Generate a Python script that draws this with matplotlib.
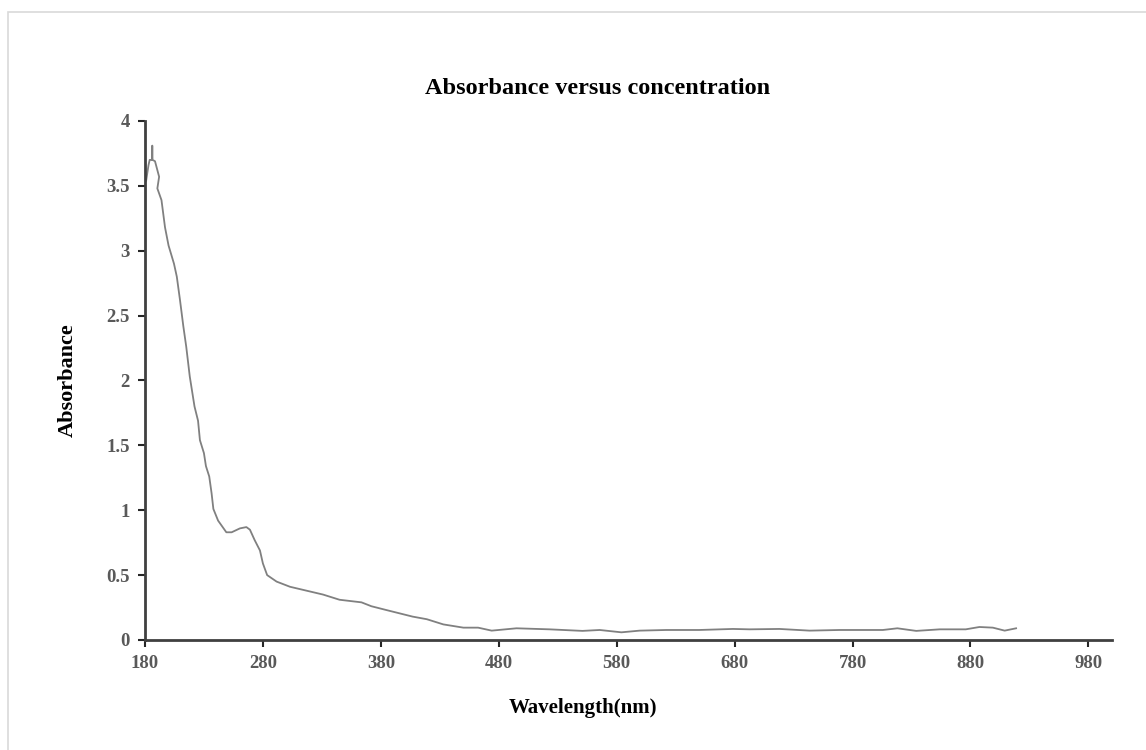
import numpy as np
import matplotlib
matplotlib.use('Agg')
from matplotlib import pyplot as plt
from matplotlib.patches import Rectangle

# Absorbance spectrum
wavelength = [181, 183, 184, 186, 186.2, 186.4, 188.5, 192, 190.5, 194, 197, 200,
              204.6, 207, 209.7, 212.5, 215, 218, 222, 225, 226.6, 230, 231.7,
              234.5, 236.5, 238, 242, 249, 253.5, 260.5, 266, 269, 273, 277.5,
              280, 283.6, 291.6, 303, 317, 331, 345, 363.6, 372, 385, 396, 407,
              419, 433, 450, 462.5, 474, 495, 523, 551, 565.6, 584, 599.5, 622,
              650, 678.5, 692.7, 718, 743.6, 769, 805.7, 818, 834, 854, 876,
              887.6, 899, 909, 918.7]
absorbance = [3.54, 3.66, 3.70, 3.70, 3.81, 3.70, 3.69, 3.57, 3.48, 3.39, 3.18, 3.04,
              2.90, 2.80, 2.62, 2.42, 2.26, 2.03, 1.80, 1.69, 1.54, 1.44, 1.34,
              1.26, 1.13, 1.01, 0.92, 0.83, 0.83, 0.86, 0.87, 0.85, 0.77, 0.69,
              0.59, 0.50, 0.45, 0.41, 0.38, 0.35, 0.31, 0.29, 0.26, 0.23, 0.205, 0.18,
              0.16, 0.12, 0.095, 0.095, 0.072, 0.09, 0.082, 0.07, 0.077, 0.059,
              0.072, 0.077, 0.077, 0.085, 0.082, 0.085, 0.072, 0.077, 0.077,
              0.09, 0.07, 0.082, 0.082, 0.10, 0.095, 0.072, 0.09]

xticks = np.arange(180, 981, 100)
yticks = [0, 0.5, 1, 1.5, 2, 2.5, 3, 3.5, 4]
ytick_labels = ['0', '0.5', '1', '1.5', '2', '2.5', '3', '3.5', '4']

plt.rcParams['font.family'] = ['Liberation Serif', 'DejaVu Serif']

fig = plt.figure(figsize=(11.46, 7.5), dpi=100, facecolor='w')
# light outer frame of the chart area
fig.patches.append(Rectangle((8 / 1146, -0.01), 1.2, 1 - 12 / 750 + 0.01,
                             transform=fig.transFigure, fill=False,
                             edgecolor='#d9d9d9', linewidth=1.2))

ax = fig.add_axes([0.1265, 0.1467, 0.9703 - 0.1265, 0.8387 - 0.1467])
ax.plot(wavelength, absorbance, color='#808080', linewidth=1.3)

ax.set_xlim(180, 1000)
ax.set_ylim(0, 4)
ax.set_xticks(xticks)
ax.set_yticks(yticks)
ax.set_yticklabels(ytick_labels)

for side in ('top', 'right'):
    ax.spines[side].set_visible(False)
for side in ('left', 'bottom'):
    ax.spines[side].set_linewidth(2)
    ax.spines[side].set_color('#404040')
ax.tick_params(direction='out', length=5, width=1.5, color='#262626',
               labelsize=13.5, labelcolor='#595959', pad=6)
for lbl in ax.get_xticklabels() + ax.get_yticklabels():
    lbl.set_fontweight('bold')

fig.text(598 / 1146, 1 - 89 / 750, 'Absorbance versus concentration',
         fontsize=17.5, fontweight='bold', ha='center', va='center')
fig.text(583 / 1146, 1 - 708 / 750, 'Wavelength(nm)',
         fontsize=15, fontweight='bold', ha='center', va='center')
fig.text(68 / 1146, 1 - 380 / 750, 'Absorbance', rotation=90,
         fontsize=16, fontweight='bold', ha='center', va='center')

plt.savefig('out.png', dpi=100)
